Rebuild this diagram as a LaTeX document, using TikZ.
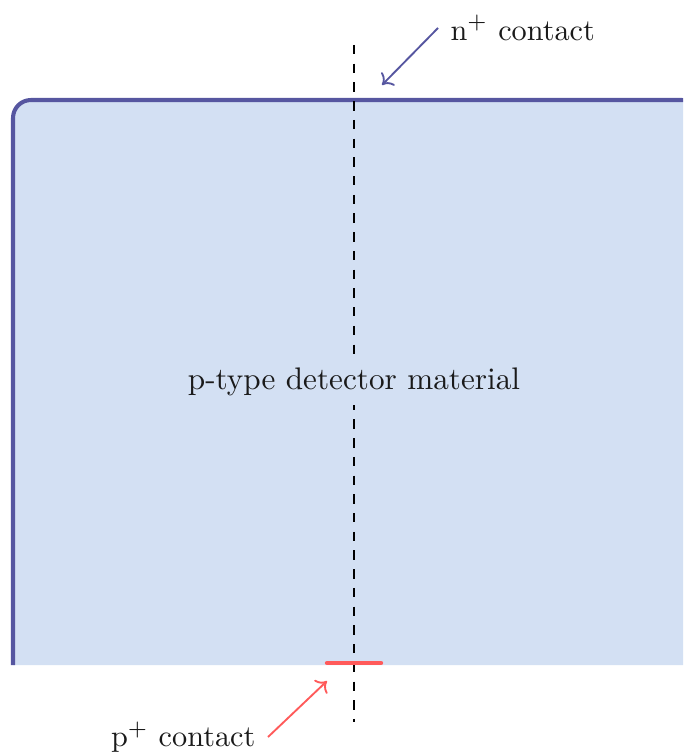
\documentclass[tikz,border=0pt]{standalone}
\usetikzlibrary{arrows.meta}
\definecolor{detfill}{HTML}{D3E0F3}
\definecolor{detborder}{HTML}{5656A0}
\definecolor{pcol}{HTML}{FF5A5A}
\definecolor{txt}{HTML}{1A1A1A}
\tikzset{
  border/.style={draw=detborder, line width=1.3pt},
  axisline/.style={dashed, line width=0.65pt, black},
  lbl/.style={text=txt, font=\fontsize{10}{12}\selectfont, inner sep=0pt},
  clbl/.style={text=txt, font=\fontsize{9.7}{12}\selectfont, inner sep=0pt},
  narrow/.style={detborder, line width=0.6pt, -{To[length=3pt,width=6pt]}},
  parrow/.style={pcol, line width=0.6pt, -{To[length=3pt,width=6pt]}},
}
\begin{document}
\begin{tikzpicture}[x=0.3205pt, y=-0.3205pt]
\useasboundingbox (0,0) rectangle (683,752);
\begin{scope}
\clip (0,0) rectangle (683,752);
\fill[detfill, rounded corners=18pt*0.3205] (13,665) -- (13,100) -- (700,100) -- (700,665);
\draw[border, rounded corners=18pt*0.3205] (13,665) -- (13,100) -- (700,100) -- (700,665);
\end{scope}
\coordinate (atop) at (354,45);
\coordinate (abot) at (354,722);
\draw[axisline] (atop) -- (abot);
\node[lbl, fill=detfill, inner sep=3pt] (mat) at (354,382) {p-type detector material};
\coordinate (pl) at (327,663);
\coordinate (pr) at (381,663);
\draw[pcol, line width=1.4pt, line cap=round] (pl) -- (pr);
\node[clbl, anchor=west] (nlab) at (450,28) {n$^+$ contact};
\node[clbl, anchor=east] (plab) at (256,737) {p$^+$ contact};
\coordinate (ntip) at (382,85);
\coordinate (ptip) at (327,681);
\draw[narrow] (nlab.west) ++(-12,0) -- (ntip);
\draw[parrow] (plab.east) ++(12,0) -- (ptip);
\end{tikzpicture}
\end{document}
